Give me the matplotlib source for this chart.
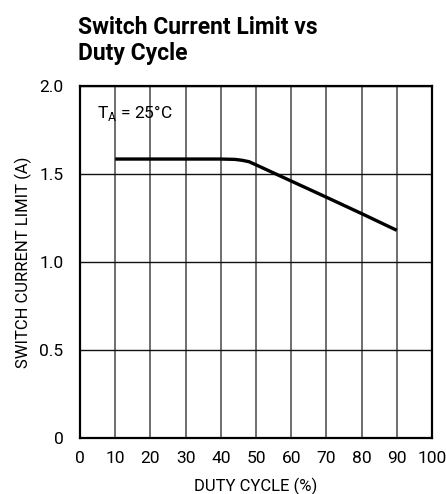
import numpy as np
import matplotlib.pyplot as plt

# duty cycle (%) and switch current limit (A)
duty = np.array([10, 20, 30, 40, 44, 46, 48, 50, 60, 70, 80, 90])
ilim = np.array([1.585, 1.585, 1.585, 1.585, 1.583, 1.578, 1.570, 1.552,
                 1.460, 1.368, 1.275, 1.180])

xticks = np.arange(0, 101, 10)
yticks = [0, 0.5, 1.0, 1.5, 2.0]
ylabels = ['0', '0.5', '1.0', '1.5', '2.0']

plt.rcParams['font.family'] = ['Roboto', 'DejaVu Sans']

fig = plt.figure(figsize=(4.46, 4.94), dpi=100)
ax = fig.add_axes([80 / 446, 1 - 438 / 494, 352 / 446, 352 / 494])

ax.plot(duty, ilim, color='black', lw=2.4, solid_capstyle='butt')

ax.set_xlim(0, 100)
ax.set_ylim(0, 2.0)
ax.set_xticks(xticks)
ax.set_yticks(yticks)
ax.set_yticklabels(ylabels)
ax.tick_params(length=0, labelsize=12.5)
ax.tick_params(axis='x', pad=9)
ax.tick_params(axis='y', pad=12)
ax.grid(True, axis='x', color='#555555', lw=1.2)
ax.grid(True, axis='y', color='#111111', lw=1.0)
for s in ax.spines.values():
    s.set_linewidth(1.6)

ax.set_xlabel('DUTY CYCLE (%)', fontsize=12, labelpad=9)
ax.set_ylabel('SWITCH CURRENT LIMIT (A)', fontsize=12, labelpad=5)

ax.text(4.8, 1.82, r'T$_\mathregular{A}$ = 25°C', fontsize=12.5)

fig.text(78 / 446, 1 - 16 / 494, 'Switch Current Limit vs\nDuty Cycle',
         fontsize=16.5, fontweight='bold', va='top', ha='left', linespacing=1.15)

fig.savefig('out.png', dpi=100)
